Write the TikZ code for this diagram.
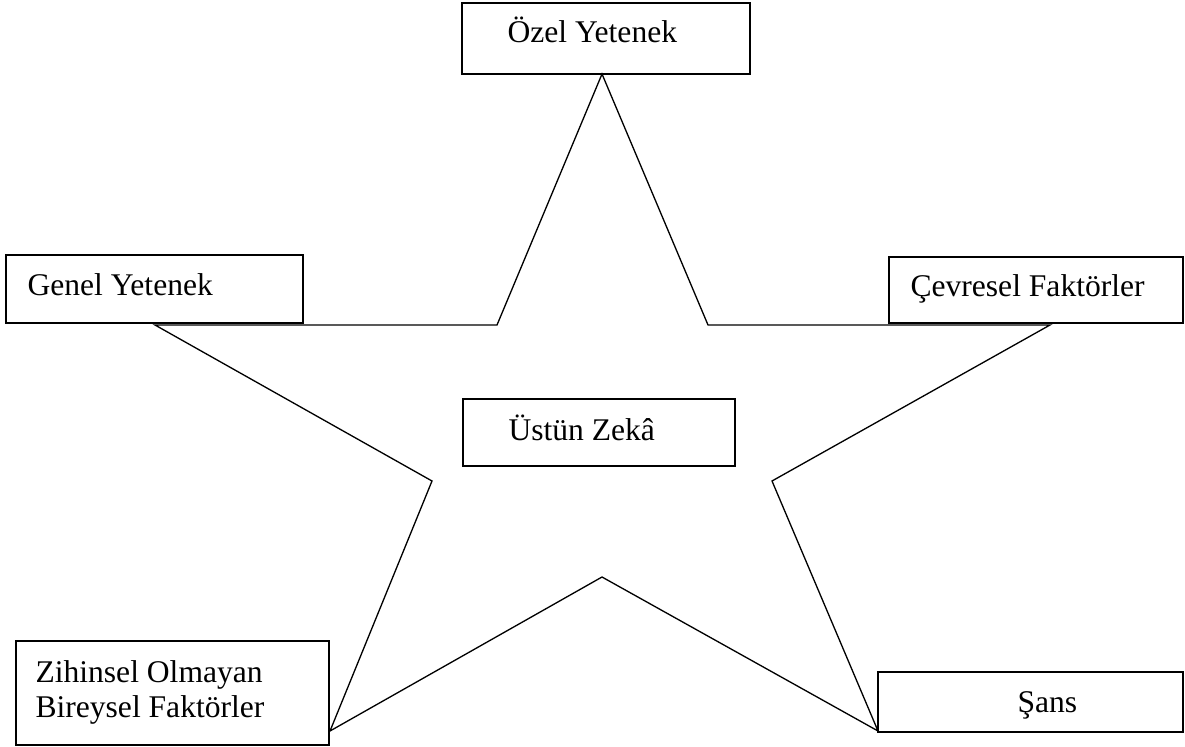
\documentclass[tikz,border=0pt]{standalone}
\usepackage{fontspec}
\setmainfont{Liberation Serif}
\begin{document}
\begin{tikzpicture}[x=0.38pt,y=-0.38pt,
  box/.style={draw=black, line width=0.8pt, inner sep=0pt},
  lbl/.style={inner sep=0pt, font=\fontsize{12}{13.3}\selectfont},
  edge/.style={draw=black, line width=0.5pt, line join=miter}]
\useasboundingbox (0,0) rectangle (1185,747);
% star
\coordinate (ptop) at (602,74);
\coordinate (pright) at (1050,325);
\coordinate (pbr) at (878,731);
\coordinate (pbl) at (330,731);
\coordinate (pleft) at (155,325);
\draw[edge] (ptop) -- (708,325) -- (pright) -- (772,481) -- (pbr) -- (602,577)
  -- (pbl) -- (432,481) -- (pleft) -- (497,325) -- cycle;
% boxes
\node[box, minimum width=109.44pt, minimum height=26.98pt] (ozel) at (606,38.5) {};
\node[box, minimum width=112.86pt, minimum height=25.84pt] (genel) at (154.5,289) {};
\node[box, minimum width=111.72pt, minimum height=25.08pt] (cevre) at (1036,290) {};
\node[box, minimum width=103.36pt, minimum height=25.46pt] (ustun) at (599,432.5) {};
\node[box, minimum width=118.94pt, minimum height=39.52pt] (zihin) at (172.5,693) {};
\node[box, minimum width=115.9pt, minimum height=22.8pt] (sans) at (1030.5,702) {};
% labels
\node[lbl, anchor=base west] (ozeltxt) at (507,43) {Özel Yetenek};
\node[lbl, anchor=base west] (geneltxt) at (27,296) {Genel Yetenek};
\node[lbl, anchor=base west] (cevretxt) at (910,297) {Çevresel Faktörler};
\node[lbl, anchor=base west] (ustuntxt) at (508,440) {Üstün Zekâ};
\node[lbl, anchor=west, align=left] (zihintxt) at (35,692) {Zihinsel Olmayan\\Bireysel Faktörler};
\node[lbl, anchor=base west] (sanstxt) at (1017,712) {Şans};
\end{tikzpicture}
\end{document}
